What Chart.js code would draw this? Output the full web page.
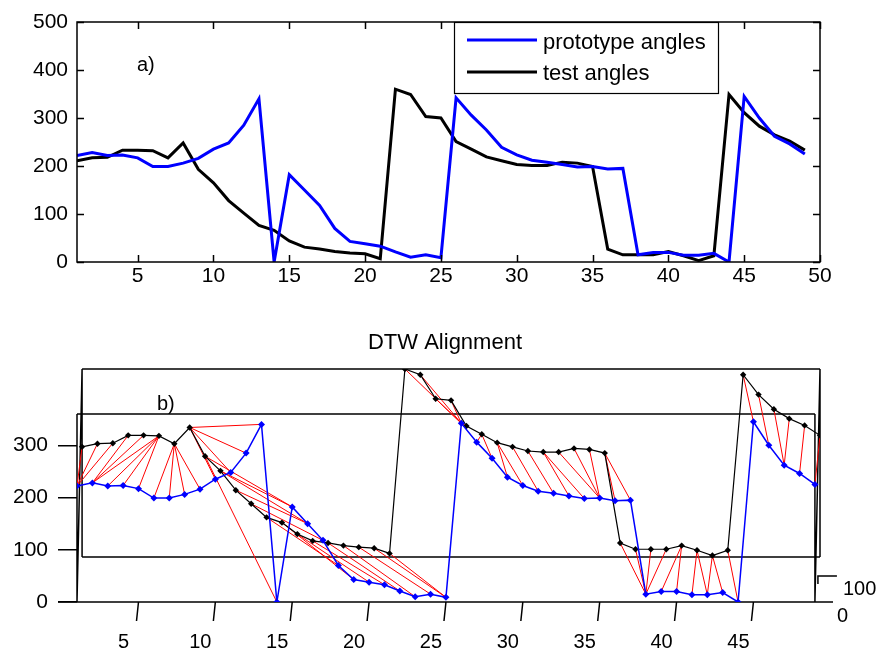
<!DOCTYPE html>
<html>
<head>
<meta charset="utf-8">
<script src="https://cdn.jsdelivr.net/npm/chart.js@4.4.1/dist/chart.umd.min.js"></script>
<style>
  html, body { margin: 0; padding: 0; background: #fff; }
  #wrap { position: relative; width: 877px; height: 650px; }
  #angle-box { position: absolute; left: 0; top: 0; }
  #dtw-box { position: absolute; left: 0; top: 310px; }
</style>
</head>
<body>
<div id="wrap">
  <div id="angle-box"><canvas id="angle-chart" width="877" height="310"></canvas></div>
  <div id="dtw-box"><canvas id="dtw-chart" width="877" height="340"></canvas></div>
</div>
<script>
// DATA
var protoAngles = [222, 228, 222, 223, 217, 199, 199, 206, 216, 235,
                   248, 285, 340, 0, 182, 150, 118, 70, 43, 38,
                   33, 21, 10, 15, 9, 342, 306, 275, 239, 223,
                   212, 208, 203, 198, 199, 194, 195, 15, 20, 20,
                   14, 14, 18, 0, 345, 300, 262, 246, 225];
var testAngles = [211, 217, 218, 233, 233, 232, 217, 248, 193, 165,
                  128, 102, 76, 66, 44, 31, 27, 22, 19, 17,
                  7, 360, 349, 303, 300, 251, 235, 219, 211, 203,
                  201, 201, 208, 206, 199, 27, 15, 15, 15, 22,
                  13, 3, 13, 349, 311, 283, 265, 252, 233];
// DTW warping path: [prototype index, test index], 1-based
var alignPairs = [[1,1],[1,2],[1,3],[2,4],[2,5],[2,6],[3,6],[4,6],[5,6],[6,7],
                  [7,7],[8,7],[9,7],[10,8],[11,8],[12,8],[13,8],[14,9],[15,9],[15,10],
                  [16,10],[16,11],[17,12],[18,13],[19,14],[20,15],[21,16],[22,17],[23,18],[24,19],
                  [25,20],[25,21],[26,22],[26,23],[26,24],[26,25],[26,26],[27,27],[28,27],[29,28],
                  [30,28],[31,29],[32,30],[33,31],[34,31],[35,32],[35,33],[35,34],[36,35],[37,35],
                  [38,36],[38,37],[38,38],[38,39],[39,40],[40,40],[41,41],[42,41],[42,42],[43,42],
                  [44,43],[45,44],[46,45],[47,46],[47,47],[48,48],[49,49]];
var angleXTicks = [5, 10, 15, 20, 25, 30, 35, 40, 45, 50];
var angleYTicks = [0, 100, 200, 300, 400, 500];
var dtwXTicks = [5, 10, 15, 20, 25, 30, 35, 40, 45];
var dtwYTicks = [0, 100, 200, 300];
var legendLabels = ["prototype angles", "test angles"];

// 3D offset of the test series plane in the DTW view
var backDx = 0.33, backDy = 86;
var boxH = Math.max.apply(null, testAngles);

var FONT = '"Liberation Sans", Arial, sans-serif';
var BLUE = "#0000FF", RED = "#FF0000";

function pts(arr, dx, dy) {
  return arr.map(function (v, k) { return { x: k + 1 + dx, y: v + dy }; });
}

// TOP CHART: angles
var angleFrame = {
  id: "angleFrame",
  afterDraw: function (chart) {
    var ctx = chart.ctx, a = chart.chartArea, x = chart.scales.x, y = chart.scales.y;
    ctx.save();
    ctx.strokeStyle = "#000";
    ctx.lineWidth = 1.5;
    ctx.strokeRect(a.left, a.top, a.right - a.left, a.bottom - a.top);
    ctx.beginPath();
    angleXTicks.forEach(function (v) {
      var px = Math.round(x.getPixelForValue(v)) + 0.5;
      ctx.moveTo(px, a.bottom); ctx.lineTo(px, a.bottom - 7);
      ctx.moveTo(px, a.top); ctx.lineTo(px, a.top + 7);
    });
    angleYTicks.forEach(function (v) {
      var py = Math.round(y.getPixelForValue(v)) + 0.5;
      ctx.moveTo(a.left, py); ctx.lineTo(a.left + 7, py);
      ctx.moveTo(a.right, py); ctx.lineTo(a.right - 7, py);
    });
    ctx.stroke();

    ctx.fillStyle = "#000";
    ctx.font = "20px " + FONT;
    ctx.textBaseline = "middle";
    ctx.fillText("a)", 137, 65);

    // legend
    ctx.fillStyle = "#fff";
    ctx.fillRect(454.5, 22.5, 264, 71);
    ctx.lineWidth = 1.2;
    ctx.strokeRect(454.5, 22.5, 264, 71);
    ctx.lineWidth = 3;
    ctx.strokeStyle = BLUE;
    ctx.beginPath(); ctx.moveTo(467, 40); ctx.lineTo(537, 40); ctx.stroke();
    ctx.strokeStyle = "#000";
    ctx.beginPath(); ctx.moveTo(467, 72); ctx.lineTo(537, 72); ctx.stroke();
    ctx.fillStyle = "#000";
    ctx.font = "22px " + FONT;
    ctx.fillText(legendLabels[0], 543, 43);
    ctx.fillText(legendLabels[1], 543, 74);
    ctx.restore();
  }
};

var ctx = document.getElementById("angle-chart").getContext("2d");
var myAngleChart = new Chart(ctx, {
  type: "line",
  data: {
    datasets: [
      { label: legendLabels[0], data: pts(protoAngles, 0, 0), borderColor: BLUE, borderWidth: 3 },
      { label: legendLabels[1], data: pts(testAngles, 0, 0), borderColor: "#000", borderWidth: 3 }
    ]
  },
  options: {
    responsive: false,
    animation: false,
    layout: { padding: { top: 22, right: 57, left: 0, bottom: 0 } },
    elements: { point: { radius: 0 }, line: { tension: 0 } },
    plugins: { legend: { display: false }, tooltip: { enabled: false } },
    scales: {
      x: {
        type: "linear", min: 1, max: 50,
        afterFit: function (s) { s.height = 48; },
        afterBuildTicks: function (s) { s.ticks = angleXTicks.map(function (v) { return { value: v }; }); },
        grid: { display: false, drawTicks: false },
        border: { display: false },
        ticks: { color: "#000", padding: 2, maxRotation: 0, autoSkip: false, font: { family: FONT, size: 21 } }
      },
      y: {
        min: 0, max: 500,
        afterFit: function (s) { s.width = 77; },
        afterBuildTicks: function (s) { s.ticks = angleYTicks.map(function (v) { return { value: v }; }); },
        grid: { display: false, drawTicks: false },
        border: { display: false },
        ticks: { color: "#000", padding: 9, font: { family: FONT, size: 21 } }
      }
    }
  },
  plugins: [angleFrame]
});

// BOTTOM CHART: DTW alignment
var redSegments = [];
alignPairs.forEach(function (p) {
  redSegments.push({ x: p[0], y: protoAngles[p[0] - 1] });
  redSegments.push({ x: p[1] + backDx, y: testAngles[p[1] - 1] + backDy });
  redSegments.push({ x: p[0], y: null });
});

var dtwFrame = {
  id: "dtwFrame",
  beforeDatasetsDraw: function (chart) {
    var ctx = chart.ctx, a = chart.chartArea, x = chart.scales.x, y = chart.scales.y;
    function P(xv, yv) { return [x.getPixelForValue(xv), y.getPixelForValue(yv)]; }
    var n = protoAngles.length;
    var segs = [
      [P(1, boxH), P(n, boxH)], [P(1, 0), P(1, boxH)], [P(n, 0), P(n, boxH)],
      [P(1 + backDx, backDy), P(n + backDx, backDy)],
      [P(1 + backDx, boxH + backDy), P(n + backDx, boxH + backDy)],
      [P(1 + backDx, backDy), P(1 + backDx, boxH + backDy)],
      [P(n + backDx, backDy), P(n + backDx, boxH + backDy)],
      [P(1, 0), P(1 + backDx, boxH + backDy)],
      [P(n, 0), P(n + backDx, boxH + backDy)],
      [[a.left - 19, a.bottom], [a.right + 13, a.bottom]]
    ];
    ctx.save();
    ctx.strokeStyle = "#000";
    ctx.lineWidth = 1.5;
    ctx.beginPath();
    segs.forEach(function (s) { ctx.moveTo(s[0][0], s[0][1]); ctx.lineTo(s[1][0], s[1][1]); });
    // slanted x ticks
    dtwXTicks.forEach(function (v) {
      var px = x.getPixelForValue(v);
      ctx.moveTo(px, a.bottom); ctx.lineTo(px - 2, a.bottom + 19);
    });
    // z axis tick
    var zx = x.getPixelForValue(n) + 3, zy = y.getPixelForValue(50);
    ctx.moveTo(zx, zy + 8); ctx.lineTo(zx, zy); ctx.lineTo(zx + 19, zy);
    ctx.stroke();

    ctx.fillStyle = "#000";
    ctx.textBaseline = "middle";
    ctx.font = "20px " + FONT;
    ctx.fillText("100", zx + 25, zy + 14);
    ctx.fillText("0", zx + 19, zy + 41);
    ctx.fillText("b)", 157, 94);
    ctx.font = "22px " + FONT;
    ctx.textAlign = "center";
    ctx.fillText("DTW Alignment", 445, 33);
    ctx.restore();
  }
};

var ctx = document.getElementById("dtw-chart").getContext("2d");
var myDtwChart = new Chart(ctx, {
  type: "line",
  data: {
    datasets: [
      {
        data: pts(protoAngles, 0, 0), borderColor: BLUE, borderWidth: 1.5,
        pointStyle: "rectRot", pointRadius: 3.5, pointBackgroundColor: BLUE, pointBorderWidth: 0, order: 1
      },
      {
        data: pts(testAngles, backDx, backDy), borderColor: "#000", borderWidth: 1.2,
        pointStyle: "rectRot", pointRadius: 3.2, pointBackgroundColor: "#000", pointBorderWidth: 0, order: 2
      },
      {
        data: redSegments, borderColor: RED, borderWidth: 1, pointRadius: 0, spanGaps: false, order: 3
      }
    ]
  },
  options: {
    responsive: false,
    animation: false,
    layout: { padding: { top: 59, right: 57, left: 0, bottom: 0 } },
    elements: { line: { tension: 0 } },
    plugins: { legend: { display: false }, tooltip: { enabled: false } },
    scales: {
      x: {
        type: "linear", min: 1, max: protoAngles.length + backDx,
        afterFit: function (s) { s.height = 48; },
        afterBuildTicks: function (s) { s.ticks = dtwXTicks.map(function (v) { return { value: v }; }); },
        grid: { display: false, drawTicks: false },
        border: { display: false },
        ticks: { color: "#000", padding: 28, labelOffset: -15, maxRotation: 0, autoSkip: false, font: { family: FONT, size: 20 } }
      },
      y: {
        min: 0, max: boxH + backDy,
        afterFit: function (s) { s.width = 77; },
        afterBuildTicks: function (s) { s.ticks = dtwYTicks.map(function (v) { return { value: v }; }); },
        grid: { display: true, drawOnChartArea: false, drawTicks: true, tickLength: 19, color: "#000", lineWidth: 1.5 },
        border: { display: false },
        ticks: { color: "#000", padding: 10, font: { family: FONT, size: 21 } }
      }
    }
  },
  plugins: [dtwFrame]
});
</script>
</body>
</html>
